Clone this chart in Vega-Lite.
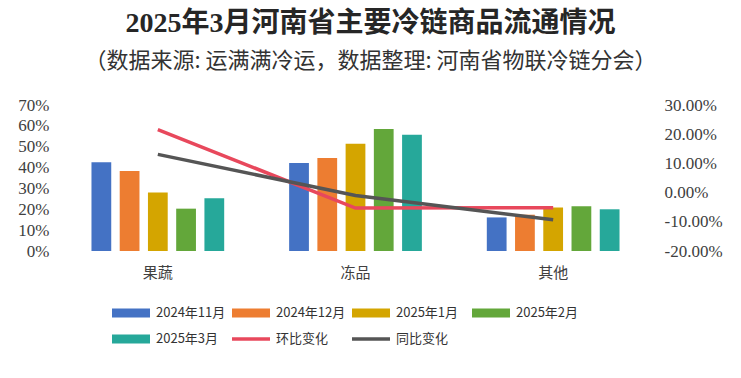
{
  "$schema": "https://vega.github.io/schema/vega-lite/v6.json",
  "autosize": {"type": "none"},
  "width": 593,
  "height": 146,
  "padding": {"left": 59, "top": 105, "right": 89, "bottom": 127},
  "background": "white",
  "config": {"view": {"stroke": null}},
  "title": {
    "text": "2025年3月河南省主要冷链商品流通情况",
    "subtitle": "（数据来源: 运满满冷运，数据整理: 河南省物联冷链分会）",
    "anchor": "middle",
    "frame": "group",
    "dx": 15,
    "offset": 24,
    "font": "Liberation Serif, Noto Sans CJK SC",
    "fontSize": 28,
    "fontWeight": "bold",
    "color": "#262626",
    "subtitleFont": "Noto Sans CJK SC",
    "subtitleFontSize": 22,
    "subtitleColor": "#333333",
    "subtitlePadding": 13
  },
  "datasets": {
    "bars": [
      {"cat": "果蔬", "series": "2024年11月", "value": 0.426},
      {"cat": "果蔬", "series": "2024年12月", "value": 0.383},
      {"cat": "果蔬", "series": "2025年1月", "value": 0.28},
      {"cat": "果蔬", "series": "2025年2月", "value": 0.203},
      {"cat": "果蔬", "series": "2025年3月", "value": 0.253},
      {"cat": "冻品", "series": "2024年11月", "value": 0.422},
      {"cat": "冻品", "series": "2024年12月", "value": 0.446},
      {"cat": "冻品", "series": "2025年1月", "value": 0.514},
      {"cat": "冻品", "series": "2025年2月", "value": 0.585},
      {"cat": "冻品", "series": "2025年3月", "value": 0.557},
      {"cat": "其他", "series": "2024年11月", "value": 0.161},
      {"cat": "其他", "series": "2024年12月", "value": 0.174},
      {"cat": "其他", "series": "2025年1月", "value": 0.209},
      {"cat": "其他", "series": "2025年2月", "value": 0.214},
      {"cat": "其他", "series": "2025年3月", "value": 0.2}
    ],
    "lines": [
      {"cat": "果蔬", "series": "环比变化", "value": 0.216},
      {"cat": "冻品", "series": "环比变化", "value": -0.053},
      {"cat": "其他", "series": "环比变化", "value": -0.052},
      {"cat": "果蔬", "series": "同比变化", "value": 0.131},
      {"cat": "冻品", "series": "同比变化", "value": -0.01},
      {"cat": "其他", "series": "同比变化", "value": -0.093}
    ]
  },
  "encoding": {
    "x": {
      "field": "cat",
      "type": "nominal",
      "sort": ["果蔬", "冻品", "其他"],
      "scale": {"paddingInner": 0.3, "paddingOuter": 0.15},
      "axis": {
        "title": null,
        "domain": false,
        "ticks": false,
        "labelAngle": 0,
        "labelPadding": 14,
        "labelFont": "Noto Sans CJK SC",
        "labelFontSize": 15,
        "labelColor": "#404040"
      }
    },
    "color": {
      "field": "series",
      "type": "nominal",
      "scale": {
        "domain": ["2024年11月", "2024年12月", "2025年1月", "2025年2月", "2025年3月", "环比变化", "同比变化"],
        "range": ["#4472C4", "#ED7D31", "#D4A500", "#63A73A", "#26A89A", "#E8485C", "#555555"]
      },
      "legend": {
        "title": null,
        "orient": "none",
        "legendX": 53,
        "legendY": 189,
        "direction": "horizontal",
        "columns": 4,
        "gridAlign": "all",
        "columnPadding": 6,
        "rowPadding": -1,
        "padding": 0,
        "symbolSize": 1444,
        "symbolStrokeWidth": 0,
        "labelOffset": 6,
        "labelFont": "Noto Sans CJK SC",
        "labelFontSize": 13,
        "labelColor": "#333333",
        "encode": {
          "symbols": {
            "update": {
              "shape": {"signal": "datum.value === '环比变化' || datum.value === '同比变化' ? 'M-1,-0.09H1V0.09H-1Z' : 'M-1,-0.24H1V0.24H-1Z'"},
              "fill": {"signal": "scale('color', datum.value)"},
              "strokeWidth": {"value": 0},
              "opacity": {"value": 1},
              "fillOpacity": {"value": 1}
            }
          }
        }
      }
    }
  },
  "layer": [
    {
      "data": {"name": "bars"},
      "mark": {"type": "bar"},
      "encoding": {
        "xOffset": {
          "field": "series",
          "type": "nominal",
          "sort": ["2024年11月", "2024年12月", "2025年1月", "2025年2月", "2025年3月"],
          "scale": {"paddingInner": 0.3, "paddingOuter": 0.1}
        },
        "y": {
          "field": "value",
          "type": "quantitative",
          "scale": {"domain": [0, 0.7], "nice": false},
          "axis": {
            "orient": "left",
            "title": null,
            "values": [0, 0.1, 0.2, 0.3, 0.4, 0.5, 0.6, 0.7],
            "format": ".0%",
            "grid": false,
            "domain": false,
            "ticks": false,
            "labelPadding": 10,
            "labelFont": "Liberation Serif",
            "labelFontSize": 17,
            "labelColor": "#404040"
          }
        }
      }
    },
    {
      "data": {"name": "lines"},
      "mark": {"type": "line", "strokeWidth": 3.5},
      "encoding": {
        "y": {
          "field": "value",
          "type": "quantitative",
          "scale": {"domain": [-0.2, 0.3], "nice": false},
          "axis": {
            "orient": "right",
            "title": null,
            "values": [-0.2, -0.1, 0, 0.1, 0.2, 0.3],
            "format": ".2%",
            "labelExpr": "replace(datum.label, '−', '-')",
            "grid": false,
            "domain": false,
            "ticks": false,
            "labelPadding": 12,
            "labelFont": "Liberation Serif",
            "labelFontSize": 17,
            "labelColor": "#404040"
          }
        }
      }
    }
  ],
  "resolve": {"scale": {"y": "independent"}}
}
